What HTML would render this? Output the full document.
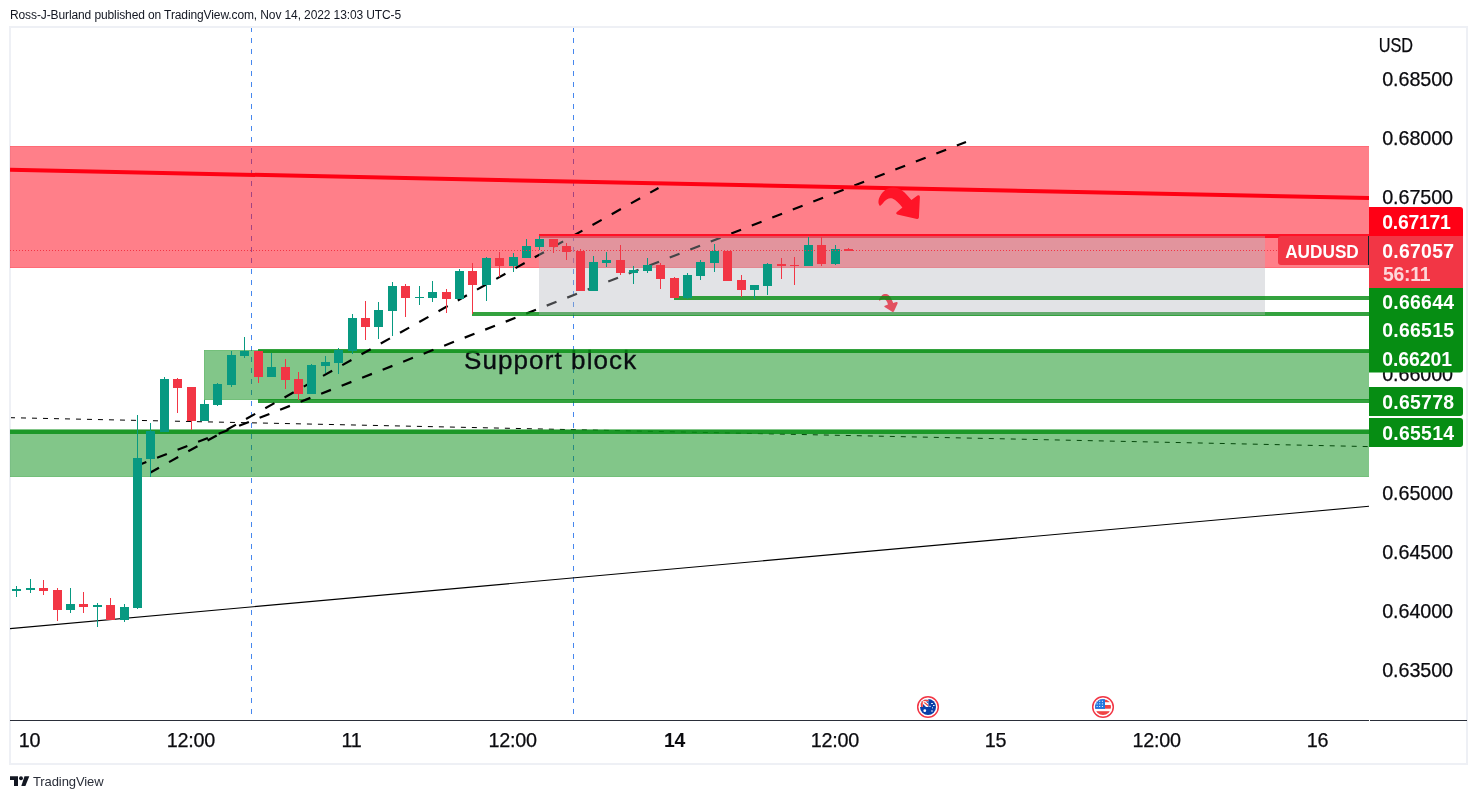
<!DOCTYPE html>
<html lang="en"><head><meta charset="utf-8"><title>AUDUSD chart</title>
<style>

html,body{margin:0;padding:0;background:#fff;}
body{width:1477px;height:799px;position:relative;overflow:hidden;font-family:"Liberation Sans",sans-serif;color:#131722;}
.hdr{position:absolute;left:10px;top:7px;font-size:12px;line-height:16px;white-space:nowrap;color:#131722;letter-spacing:-0.11px;}
.frame{position:absolute;left:9px;top:26px;width:1459px;height:739px;box-sizing:border-box;border:2px solid #eef0f5;}
#root{position:absolute;left:0;top:0;width:1477px;height:799px;will-change:transform;}
svg.chart{position:absolute;left:0;top:0;}
.t{position:absolute;white-space:nowrap;font-size:19.8px;line-height:22px;color:#131722;-webkit-text-stroke:0.25px #131722;}
.tick{left:1382px;letter-spacing:0.05px;}
.time{transform:translateX(-50%);letter-spacing:0px;}
.lab{position:absolute;left:1369px;width:94px;height:29px;box-sizing:border-box;color:#fff;font-weight:bold;font-size:18px;line-height:29px;padding-left:13px;white-space:nowrap;letter-spacing:0.6px;border-radius:0 3px 3px 0;}
.foot{position:absolute;left:33px;top:773.9px;font-size:13px;line-height:16px;color:#2a2e39;white-space:nowrap;letter-spacing:-0.1px;}

</style></head><body><div id="root">
<div class="hdr">Ross-J-Burland published on TradingView.com, Nov 14, 2022 13:03 UTC-5</div>
<div class="frame"></div>
<svg class="chart" width="1477" height="799" viewBox="0 0 1477 799">
<defs><clipPath id="plot"><rect x="10" y="28" width="1359" height="692"/></clipPath><clipPath id="fl"><circle cx="0" cy="0" r="8"/></clipPath></defs>
<g clip-path="url(#plot)">
<line x1="251.5" y1="28" x2="251.5" y2="720" stroke="#4687ee" stroke-width="1" stroke-dasharray="5 6" stroke-dashoffset="1" shape-rendering="crispEdges"/>
<line x1="573.5" y1="28" x2="573.5" y2="720" stroke="#4687ee" stroke-width="1" stroke-dasharray="5 6" stroke-dashoffset="1" shape-rendering="crispEdges"/>
<line x1="11" y1="417.7" x2="1369" y2="446.6" stroke="#000" stroke-width="1" stroke-dasharray="5 6" stroke-dashoffset="1"/>
<g shape-rendering="crispEdges">
<rect x="10" y="146" width="1359" height="122" fill="rgba(255,0,20,0.5)"/>
<rect x="10" y="146" width="1359" height="1" fill="rgba(255,0,20,0.16)"/>
<rect x="10" y="267" width="1359" height="1" fill="rgba(255,0,20,0.16)"/>
<rect x="10" y="429" width="1359" height="48" fill="rgba(6,141,19,0.5)"/>
<rect x="10" y="476" width="1359" height="1" fill="rgba(6,141,19,0.12)"/>
<rect x="204" y="350" width="1165" height="50" fill="rgba(6,141,19,0.5)"/>
<rect x="204" y="350" width="1" height="50" fill="rgba(6,141,19,0.12)"/>
<rect x="204" y="350" width="54" height="1" fill="rgba(6,141,19,0.12)"/>
<rect x="204" y="399" width="54" height="1" fill="rgba(6,141,19,0.12)"/>
</g>
<text x="464" y="368.5" font-family="Liberation Sans, sans-serif" font-size="26" letter-spacing="1.1" fill="#0a0d12" stroke="#0a0d12" stroke-width="0.35">Support block</text>
<line x1="10" y1="628.6" x2="1369" y2="506.3" stroke="#000" stroke-width="1.1"/>
<g shape-rendering="crispEdges">
<rect x="258" y="349" width="1111" height="4" fill="rgba(6,141,19,0.82)"/>
<rect x="258" y="399" width="1111" height="4" fill="rgba(6,141,19,0.82)"/>
<rect x="10" y="430" width="1359" height="4" fill="rgba(6,141,19,0.82)"/>
</g>
<line x1="150.5" y1="472.5" x2="658.5" y2="188" stroke="#000" stroke-width="2.2" stroke-dasharray="10.5 11.56" stroke-dashoffset="0.8"/>
<line x1="137.5" y1="465.4" x2="966" y2="141.9" stroke="#000" stroke-width="2.2" stroke-dasharray="10.5 11.515" stroke-dashoffset="1"/>
<line x1="10" y1="169.8" x2="1369" y2="198" stroke="#ff0012" stroke-width="4"/>
<path d="M879.3 205.2 C878 203.5 878.4 200.5 879 198.6 C880 195.5 882 192.5 884.6 190.4 C889 186.5 897 186.5 902.1 190.4 C905.5 193 908.5 196.5 911.4 200 L917.5 195.6 Q919.9 194.6 919.9 197 L918.9 217.6 Q918.6 219.3 917 218.9 L897.2 214.5 Q895.4 213.6 896.6 212.3 L902.4 207.6 C899.5 203.6 896 200.3 892.5 198.6 C889.5 197.3 886.5 199 884.5 201.3 C883 203 881.8 204.5 880.7 205.6 Q880 206 879.3 205.2 Z" fill="#ff1428"/>
<path d="M879.2 300.5 C878.6 299.5 879.8 297.9 881.8 295.5 C883.5 293.8 887 293.6 888.8 295.3 C890.5 296.9 891.6 299 893.2 303 L896.4 302 Q898 301.9 897.6 303.4 L893.9 311.5 Q893.2 312.3 892.2 311.7 L884.6 307 Q883.8 306.2 884.8 305.8 L888 304.5 C887.2 302 886.6 300.4 884.9 299.2 C883.5 298.4 881.5 299.2 879.9 300.6 Q879.5 300.9 879.2 300.5 Z" fill="#ff1428"/>
<g shape-rendering="crispEdges">
<rect x="472" y="312" width="897" height="4" fill="rgba(6,141,19,0.82)"/>
<rect x="539" y="234" width="830" height="4" fill="#ff1226"/>
<rect x="539" y="236" width="726" height="79" fill="rgba(178,181,190,0.38)"/>
<rect x="674" y="296" width="695" height="4" fill="rgba(6,141,19,0.82)"/>
<rect x="16" y="586" width="1" height="11" fill="#089981"/>
<rect x="12" y="589" width="9" height="2" fill="#089981"/>
<rect x="30" y="579" width="1" height="14" fill="#089981"/>
<rect x="26" y="588" width="9" height="2" fill="#089981"/>
<rect x="43" y="580" width="1" height="15" fill="#f23645"/>
<rect x="39" y="588" width="9" height="3" fill="#f23645"/>
<rect x="57" y="588" width="1" height="33" fill="#f23645"/>
<rect x="53" y="590" width="9" height="20" fill="#f23645"/>
<rect x="70" y="588" width="1" height="25" fill="#089981"/>
<rect x="66" y="604" width="9" height="6" fill="#089981"/>
<rect x="83" y="592" width="1" height="21" fill="#f23645"/>
<rect x="79" y="604" width="9" height="3" fill="#f23645"/>
<rect x="97" y="603" width="1" height="24" fill="#089981"/>
<rect x="93" y="605" width="9" height="2" fill="#089981"/>
<rect x="110" y="598" width="1" height="22" fill="#f23645"/>
<rect x="106" y="605" width="9" height="15" fill="#f23645"/>
<rect x="124" y="604" width="1" height="18" fill="#089981"/>
<rect x="120" y="607" width="9" height="13" fill="#089981"/>
<rect x="137" y="415" width="1" height="194" fill="#089981"/>
<rect x="133" y="458" width="9" height="150" fill="#089981"/>
<rect x="150" y="423" width="1" height="54" fill="#089981"/>
<rect x="146" y="431" width="9" height="28" fill="#089981"/>
<rect x="164" y="377" width="1" height="55" fill="#089981"/>
<rect x="160" y="379" width="9" height="53" fill="#089981"/>
<rect x="177" y="378" width="1" height="35" fill="#f23645"/>
<rect x="173" y="379" width="9" height="9" fill="#f23645"/>
<rect x="191" y="387" width="1" height="43" fill="#f23645"/>
<rect x="187" y="387" width="9" height="34" fill="#f23645"/>
<rect x="204" y="400" width="1" height="21" fill="#089981"/>
<rect x="200" y="404" width="9" height="17" fill="#089981"/>
<rect x="217" y="383" width="1" height="23" fill="#089981"/>
<rect x="213" y="384" width="9" height="21" fill="#089981"/>
<rect x="231" y="351" width="1" height="36" fill="#089981"/>
<rect x="227" y="355" width="9" height="30" fill="#089981"/>
<rect x="244" y="337" width="1" height="21" fill="#089981"/>
<rect x="240" y="351" width="9" height="5" fill="#089981"/>
<rect x="258" y="351" width="1" height="32" fill="#f23645"/>
<rect x="254" y="351" width="9" height="26" fill="#f23645"/>
<rect x="271" y="353" width="1" height="24" fill="#089981"/>
<rect x="267" y="367" width="9" height="10" fill="#089981"/>
<rect x="285" y="359" width="1" height="30" fill="#f23645"/>
<rect x="281" y="367" width="9" height="13" fill="#f23645"/>
<rect x="298" y="372" width="1" height="28" fill="#f23645"/>
<rect x="294" y="379" width="9" height="15" fill="#f23645"/>
<rect x="311" y="364" width="1" height="30" fill="#089981"/>
<rect x="307" y="365" width="9" height="29" fill="#089981"/>
<rect x="325" y="356" width="1" height="17" fill="#089981"/>
<rect x="321" y="362" width="9" height="4" fill="#089981"/>
<rect x="338" y="348" width="1" height="26" fill="#089981"/>
<rect x="334" y="350" width="9" height="13" fill="#089981"/>
<rect x="352" y="314" width="1" height="40" fill="#089981"/>
<rect x="348" y="318" width="9" height="33" fill="#089981"/>
<rect x="365" y="301" width="1" height="39" fill="#f23645"/>
<rect x="361" y="318" width="9" height="9" fill="#f23645"/>
<rect x="378" y="302" width="1" height="37" fill="#089981"/>
<rect x="374" y="310" width="9" height="17" fill="#089981"/>
<rect x="392" y="282" width="1" height="54" fill="#089981"/>
<rect x="388" y="286" width="9" height="25" fill="#089981"/>
<rect x="405" y="284" width="1" height="33" fill="#f23645"/>
<rect x="401" y="286" width="9" height="12" fill="#f23645"/>
<rect x="419" y="286" width="1" height="19" fill="#089981"/>
<rect x="415" y="297" width="9" height="1" fill="#089981"/>
<rect x="432" y="281" width="1" height="21" fill="#089981"/>
<rect x="428" y="292" width="9" height="6" fill="#089981"/>
<rect x="446" y="289" width="1" height="24" fill="#f23645"/>
<rect x="442" y="292" width="9" height="7" fill="#f23645"/>
<rect x="459" y="269" width="1" height="30" fill="#089981"/>
<rect x="455" y="271" width="9" height="28" fill="#089981"/>
<rect x="472" y="263" width="1" height="51" fill="#f23645"/>
<rect x="468" y="271" width="9" height="14" fill="#f23645"/>
<rect x="486" y="257" width="1" height="44" fill="#089981"/>
<rect x="482" y="258" width="9" height="27" fill="#089981"/>
<rect x="499" y="252" width="1" height="25" fill="#f23645"/>
<rect x="495" y="258" width="9" height="8" fill="#f23645"/>
<rect x="513" y="253" width="1" height="19" fill="#089981"/>
<rect x="509" y="257" width="9" height="9" fill="#089981"/>
<rect x="526" y="239" width="1" height="19" fill="#089981"/>
<rect x="522" y="246" width="9" height="12" fill="#089981"/>
<rect x="539" y="236" width="1" height="14" fill="#089981"/>
<rect x="535" y="239" width="9" height="8" fill="#089981"/>
<rect x="553" y="239" width="1" height="14" fill="#f23645"/>
<rect x="549" y="239" width="9" height="8" fill="#f23645"/>
<rect x="566" y="243" width="1" height="17" fill="#f23645"/>
<rect x="562" y="246" width="9" height="6" fill="#f23645"/>
<rect x="580" y="249" width="1" height="42" fill="#f23645"/>
<rect x="576" y="251" width="9" height="40" fill="#f23645"/>
<rect x="593" y="256" width="1" height="35" fill="#089981"/>
<rect x="589" y="262" width="9" height="29" fill="#089981"/>
<rect x="606" y="252" width="1" height="15" fill="#089981"/>
<rect x="602" y="260" width="9" height="3" fill="#089981"/>
<rect x="620" y="245" width="1" height="30" fill="#f23645"/>
<rect x="616" y="260" width="9" height="13" fill="#f23645"/>
<rect x="633" y="266" width="1" height="18" fill="#089981"/>
<rect x="629" y="270" width="9" height="3" fill="#089981"/>
<rect x="647" y="258" width="1" height="15" fill="#089981"/>
<rect x="643" y="265" width="9" height="6" fill="#089981"/>
<rect x="660" y="263" width="1" height="26" fill="#f23645"/>
<rect x="656" y="265" width="9" height="14" fill="#f23645"/>
<rect x="674" y="277" width="1" height="21" fill="#f23645"/>
<rect x="670" y="278" width="9" height="20" fill="#f23645"/>
<rect x="687" y="273" width="1" height="26" fill="#089981"/>
<rect x="683" y="275" width="9" height="23" fill="#089981"/>
<rect x="700" y="260" width="1" height="20" fill="#089981"/>
<rect x="696" y="262" width="9" height="14" fill="#089981"/>
<rect x="714" y="244" width="1" height="28" fill="#089981"/>
<rect x="710" y="251" width="9" height="12" fill="#089981"/>
<rect x="727" y="251" width="1" height="30" fill="#f23645"/>
<rect x="723" y="251" width="9" height="30" fill="#f23645"/>
<rect x="741" y="275" width="1" height="22" fill="#f23645"/>
<rect x="737" y="280" width="9" height="10" fill="#f23645"/>
<rect x="754" y="285" width="1" height="14" fill="#089981"/>
<rect x="750" y="285" width="9" height="5" fill="#089981"/>
<rect x="767" y="263" width="1" height="32" fill="#089981"/>
<rect x="763" y="264" width="9" height="22" fill="#089981"/>
<rect x="781" y="258" width="1" height="21" fill="#f23645"/>
<rect x="777" y="264" width="9" height="2" fill="#f23645"/>
<rect x="794" y="257" width="1" height="28" fill="#f23645"/>
<rect x="790" y="265" width="9" height="1" fill="#f23645"/>
<rect x="808" y="237" width="1" height="29" fill="#089981"/>
<rect x="804" y="245" width="9" height="21" fill="#089981"/>
<rect x="821" y="237" width="1" height="29" fill="#f23645"/>
<rect x="817" y="245" width="9" height="19" fill="#f23645"/>
<rect x="835" y="245" width="1" height="20" fill="#089981"/>
<rect x="831" y="249" width="9" height="15" fill="#089981"/>
<rect x="848" y="248" width="1" height="3" fill="#f23645"/>
<rect x="844" y="249" width="9" height="2" fill="#f23645"/>
</g>
<line x1="10" y1="250.5" x2="1278" y2="250.5" stroke="#f23645" stroke-width="1" stroke-dasharray="1 2" shape-rendering="crispEdges"/>
</g>
<path d="M1281 236 H1369 V265 H1281 a3 3 0 0 1 -3 -3 V239 a3 3 0 0 1 3 -3 Z" fill="#f23645"/>
<rect x="1368" y="236" width="1" height="29" fill="#1e222d" shape-rendering="crispEdges"/>
<text x="1285.2" y="257.8" font-family="Liberation Sans, sans-serif" font-size="18.2" font-weight="bold" fill="#fff" textLength="73.6" lengthAdjust="spacingAndGlyphs">AUDUSD</text>
<rect x="10" y="720" width="1359" height="1" fill="#2a2e39" shape-rendering="crispEdges"/>
<rect x="1370" y="720" width="97" height="1" fill="#2a2e39" shape-rendering="crispEdges"/>
<g transform="translate(928 707)"><circle r="10.3" fill="#fff" stroke="#f23645" stroke-width="1.5"/><g clip-path="url(#fl)"><rect x="-8" y="-8" width="16" height="16" fill="#0a3fa8"/><rect x="-8" y="-8" width="8.4" height="8" fill="#fff"/><rect x="-8" y="-7.2" width="8.4" height="1.4" fill="#f4443f"/><rect x="-7" y="-8" width="1.8" height="8" fill="#f4443f"/><path d="M-4.6 -4.6 L0.4 -0.4 L0.4 -2 L-3 -4.8 Z" fill="#f4443f"/><path d="M-5 -3 L-5 0 L-2 0 Z" fill="#0a3fa8"/><path d="M-2.2 -5.6 L0.4 -5.6 L0.4 -3.4 Z" fill="#0a3fa8"/><circle cx="-3.2" cy="3.7" r="1.4" fill="#fff"/><rect x="3.1" y="-4" width="1.8" height="1" fill="#e8eefb"/><rect x="5" y="-2" width="1.6" height="1" fill="#e8eefb"/><rect x="1.2" y="-1.2" width="1.6" height="1" fill="#dfe7f8"/><rect x="4" y="0.2" width="1" height="1.2" fill="#c8d5f1"/><rect x="3.2" y="3.3" width="1.6" height="1.4" fill="#c8d5f1"/></g></g>
<g transform="translate(1103 707)"><circle r="10.3" fill="#fff" stroke="#f23645" stroke-width="1.5"/><g clip-path="url(#fl)"><rect x="-8" y="-8" width="16" height="16" fill="#fff"/><rect x="-8" y="-7.5" width="16" height="2.7" fill="#ef4444"/><rect x="-8" y="-2" width="16" height="3.7" fill="#ef4444"/><rect x="-8" y="4.2" width="16" height="3.8" fill="#ef4444"/><rect x="-8" y="-8" width="10" height="9.9" fill="#2277e0"/><g fill="#fff"><rect x="-6.4" y="-6.2" width="1" height="1"/><rect x="-6.4" y="-3.6" width="1" height="1"/><rect x="-6.4" y="-1.0" width="1" height="1"/><rect x="-3.8" y="-6.2" width="1" height="1"/><rect x="-3.8" y="-3.6" width="1" height="1"/><rect x="-3.8" y="-1.0" width="1" height="1"/><rect x="-1.1" y="-6.2" width="1" height="1"/><rect x="-1.1" y="-3.6" width="1" height="1"/><rect x="-1.1" y="-1.0" width="1" height="1"/></g></g></g>
<g fill="#131722"><path d="M10 776.2 H18 V785.9 H14 V779.9 H10 Z"/><circle cx="21" cy="778.3" r="1.95"/><path d="M24.5 776.2 H29.3 L25.4 785.9 H21.3 Z"/></g>
</svg>
<svg class="chart" width="1477" height="799" viewBox="0 0 1477 799" font-family="Liberation Sans, sans-serif">
<text x="1378.8" y="51.6" font-size="19.8" fill="#0b0b0f" stroke="#0b0b0f" stroke-width="0.25" textLength="34.3" lengthAdjust="spacingAndGlyphs">USD</text>
<text x="1382.2" y="85.9" font-size="19.8" fill="#0b0b0f" stroke="#0b0b0f" stroke-width="0.25" letter-spacing="-0.1">0.68500</text>
<text x="1382.2" y="145.0" font-size="19.8" fill="#0b0b0f" stroke="#0b0b0f" stroke-width="0.25" letter-spacing="-0.1">0.68000</text>
<text x="1382.2" y="204.2" font-size="19.8" fill="#0b0b0f" stroke="#0b0b0f" stroke-width="0.25" letter-spacing="-0.1">0.67500</text>
<text x="1382.2" y="381.1" font-size="19.8" fill="#0b0b0f" stroke="#0b0b0f" stroke-width="0.25" letter-spacing="-0.1">0.66000</text>
<text x="1382.2" y="499.8" font-size="19.8" fill="#0b0b0f" stroke="#0b0b0f" stroke-width="0.25" letter-spacing="-0.1">0.65000</text>
<text x="1382.2" y="558.9" font-size="19.8" fill="#0b0b0f" stroke="#0b0b0f" stroke-width="0.25" letter-spacing="-0.1">0.64500</text>
<text x="1382.2" y="618.1" font-size="19.8" fill="#0b0b0f" stroke="#0b0b0f" stroke-width="0.25" letter-spacing="-0.1">0.64000</text>
<text x="1382.2" y="677.2" font-size="19.8" fill="#0b0b0f" stroke="#0b0b0f" stroke-width="0.25" letter-spacing="-0.1">0.63500</text>
<path d="M1369 207 H1460 a3 3 0 0 1 3 3 V236 H1369 V207 Z" fill="#ff0015"/>
<path d="M1369 236 H1463 V288 H1369 V236 Z" fill="#f23645"/>
<path d="M1369 288 H1463 V316 H1369 V288 Z" fill="#068d13"/>
<path d="M1369 316 H1463 V345 H1369 V316 Z" fill="#068d13"/>
<path d="M1369 345 H1463 V369.5 a3 3 0 0 1 -3 3 H1369 V345 Z" fill="#068d13"/>
<path d="M1369 387 H1460 a3 3 0 0 1 3 3 V413 a3 3 0 0 1 -3 3 H1369 V387 Z" fill="#068d13"/>
<path d="M1369 418 H1460 a3 3 0 0 1 3 3 V444 a3 3 0 0 1 -3 3 H1369 V418 Z" fill="#068d13"/>
<text x="1382.3" y="228.7" font-size="19.4" font-weight="bold" fill="#fff" letter-spacing="-0.25">0.67171</text>
<text x="1382.3" y="257.7" font-size="19.4" font-weight="bold" fill="#fff" letter-spacing="0.27">0.67057</text>
<text x="1382.3" y="308.8" font-size="19.4" font-weight="bold" fill="#fff" letter-spacing="0.27">0.66644</text>
<text x="1382.3" y="337.3" font-size="19.4" font-weight="bold" fill="#fff" letter-spacing="0.27">0.66515</text>
<text x="1382.3" y="365.7" font-size="19.4" font-weight="bold" fill="#fff" letter-spacing="-0.05">0.66201</text>
<text x="1382.3" y="408.7" font-size="19.4" font-weight="bold" fill="#fff" letter-spacing="0.27">0.65778</text>
<text x="1382.3" y="439.7" font-size="19.4" font-weight="bold" fill="#fff" letter-spacing="0.27">0.65514</text>
<text x="1383" y="280.8" font-size="19.4" font-weight="bold" fill="#fff" fill-opacity="0.8" letter-spacing="-0.25">56:11</text>
<text x="29.6" y="746.7" text-anchor="middle" font-size="19.8" fill="#0b0b0f" stroke="#0b0b0f" stroke-width="0.25" letter-spacing="-0.25">10</text>
<text x="190.9" y="746.7" text-anchor="middle" font-size="19.8" fill="#0b0b0f" stroke="#0b0b0f" stroke-width="0.25" letter-spacing="-0.25">12:00</text>
<text x="351.6" y="746.7" text-anchor="middle" font-size="19.8" fill="#0b0b0f" stroke="#0b0b0f" stroke-width="0.25" letter-spacing="-0.25">11</text>
<text x="512.6" y="746.7" text-anchor="middle" font-size="19.8" fill="#0b0b0f" stroke="#0b0b0f" stroke-width="0.25" letter-spacing="-0.25">12:00</text>
<text x="674.5" y="746.7" text-anchor="middle" font-size="19.4" font-weight="bold" fill="#0b0b0f" letter-spacing="-0.2">14</text>
<text x="834.9" y="746.7" text-anchor="middle" font-size="19.8" fill="#0b0b0f" stroke="#0b0b0f" stroke-width="0.25" letter-spacing="-0.25">12:00</text>
<text x="995.6" y="746.7" text-anchor="middle" font-size="19.8" fill="#0b0b0f" stroke="#0b0b0f" stroke-width="0.25" letter-spacing="-0.25">15</text>
<text x="1156.6" y="746.7" text-anchor="middle" font-size="19.8" fill="#0b0b0f" stroke="#0b0b0f" stroke-width="0.25" letter-spacing="-0.25">12:00</text>
<text x="1317.6" y="746.7" text-anchor="middle" font-size="19.8" fill="#0b0b0f" stroke="#0b0b0f" stroke-width="0.25" letter-spacing="-0.25">16</text>
</svg>
<div class="foot">TradingView</div>
</div></body></html>
